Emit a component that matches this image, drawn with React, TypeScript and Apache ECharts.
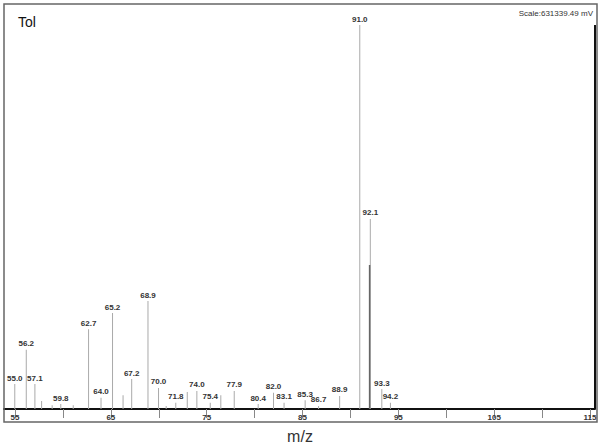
import React, { useEffect, useRef } from "react";
import * as echarts from "echarts";

// Labeled peaks (m/z, relative intensity %)
const labeledMz = [55.0, 56.2, 57.1, 59.8, 62.7, 64.0, 65.2, 67.2, 68.9, 70.0, 71.8, 74.0, 75.4, 77.9, 80.4, 82.0, 83.1, 85.3, 86.7, 88.9, 91.0, 92.1, 93.3, 94.2];
const labeledIntensity = [6.5, 15.4, 6.5, 1.3, 20.8, 2.9, 25.0, 7.8, 28.1, 5.5, 1.6, 4.7, 1.6, 4.7, 1.3, 4.2, 1.6, 2.3, 0.8, 3.4, 100, 49.5, 5.2, 1.6];
const labelTexts = ["55.0", "56.2", "57.1", "59.8", "62.7", "64.0", "65.2", "67.2", "68.9", "70.0", "71.8", "74.0", "75.4", "77.9", "80.4", "82.0", "83.1", "85.3", "86.7", "88.9", "91.0", "92.1", "93.3", "94.2"];

// Unlabeled small peaks
const minorMz = [57.8, 58.9, 61.1, 66.3, 70.8, 73.0, 76.5];
const minorIntensity = [2.1, 1.0, 1.0, 3.6, 0.8, 4.4, 3.6];

// Darker trace segment next to 92.1
const darkMz = [92.0];
const darkIntensity = [37.5];

const tickValues = [55, 60, 65, 70, 75, 80, 85, 90, 95, 100, 105, 110, 115];
const tickLabels = [55, 65, 75, 85, 95, 105, 115];

export default function App() {
  const ref = useRef<HTMLDivElement>(null);
  useEffect(() => {
    if (!ref.current) return;
    const chart = echarts.init(ref.current, null, { renderer: "svg" });
    const labelStyle = {
      show: true,
      position: "top" as const,
      distance: 2,
      fontSize: 8,
      fontWeight: "bold" as const,
      fontFamily: "Liberation Sans, Arial, sans-serif",
      color: "#333",
    };
    chart.setOption({
      animation: false,
      backgroundColor: "#fff",
      grid: { left: 4, right: 5, top: 25, bottom: 38, containLabel: false },
      xAxis: {
        type: "value",
        min: 53.85,
        max: 115.52,
        splitLine: { show: false },
        axisLine: { show: true, onZero: false, lineStyle: { color: "#111", width: 2 } },
        axisTick: {
          show: true,
          customValues: tickValues,
          length: 9,
          lineStyle: { color: "#888", width: 1 },
        },
        axisLabel: {
          customValues: tickLabels,
          fontSize: 8,
          fontWeight: "bold",
          fontFamily: "Liberation Sans, Arial, sans-serif",
          color: "#333",
          margin: 4,
        },
      },
      yAxis: {
        type: "value",
        min: 0,
        max: 100,
        show: false,
      },
      series: [
        {
          type: "bar",
          barWidth: 1,
          itemStyle: { color: "#aaa" },
          data: labeledMz.map((m, i) => ({
            value: [m, labeledIntensity[i]],
            label: { ...labelStyle, formatter: labelTexts[i] },
          })),
          z: 2,
        },
        {
          type: "bar",
          barWidth: 1,
          barGap: "-100%",
          itemStyle: { color: "#aaa" },
          data: minorMz.map((m, i) => [m, minorIntensity[i]]),
          z: 2,
        },
        {
          type: "bar",
          barWidth: 1.5,
          barGap: "-100%",
          itemStyle: { color: "#666" },
          data: darkMz.map((m, i) => [m, darkIntensity[i]]),
          z: 3,
        },
      ],
      graphic: [
        {
          type: "rect",
          shape: { x: 4, y: 4, width: 593, height: 418 },
          style: { fill: "none", stroke: "#666", lineWidth: 1.5 },
          silent: true,
          z: 10,
        },
        {
          type: "line",
          shape: { x1: 595, y1: 25, x2: 595, y2: 409 },
          style: { stroke: "#111", lineWidth: 2 },
          z: 10,
        },
        {
          type: "text",
          x: 18,
          y: 22,
          style: {
            text: "Tol",
            fontSize: 14,
            fontFamily: "Liberation Sans, Arial, sans-serif",
            fill: "#111",
            verticalAlign: "middle",
          },
        },
        {
          type: "text",
          x: 593,
          y: 13,
          style: {
            text: "Scale:631339.49 mV",
            fontSize: 8,
            fontFamily: "Liberation Sans, Arial, sans-serif",
            fill: "#333",
            align: "right",
            verticalAlign: "middle",
          },
        },
        {
          type: "text",
          x: 300,
          y: 436,
          style: {
            text: "m/z",
            fontSize: 16,
            fontFamily: "Liberation Sans, Arial, sans-serif",
            fill: "#333",
            align: "center",
            verticalAlign: "middle",
          },
        },
      ],
    });
    return () => chart.dispose();
  }, []);
  return <div ref={ref} style={{ width: 600, height: 447, position: "fixed", left: 0, top: 0 }} />;
}
